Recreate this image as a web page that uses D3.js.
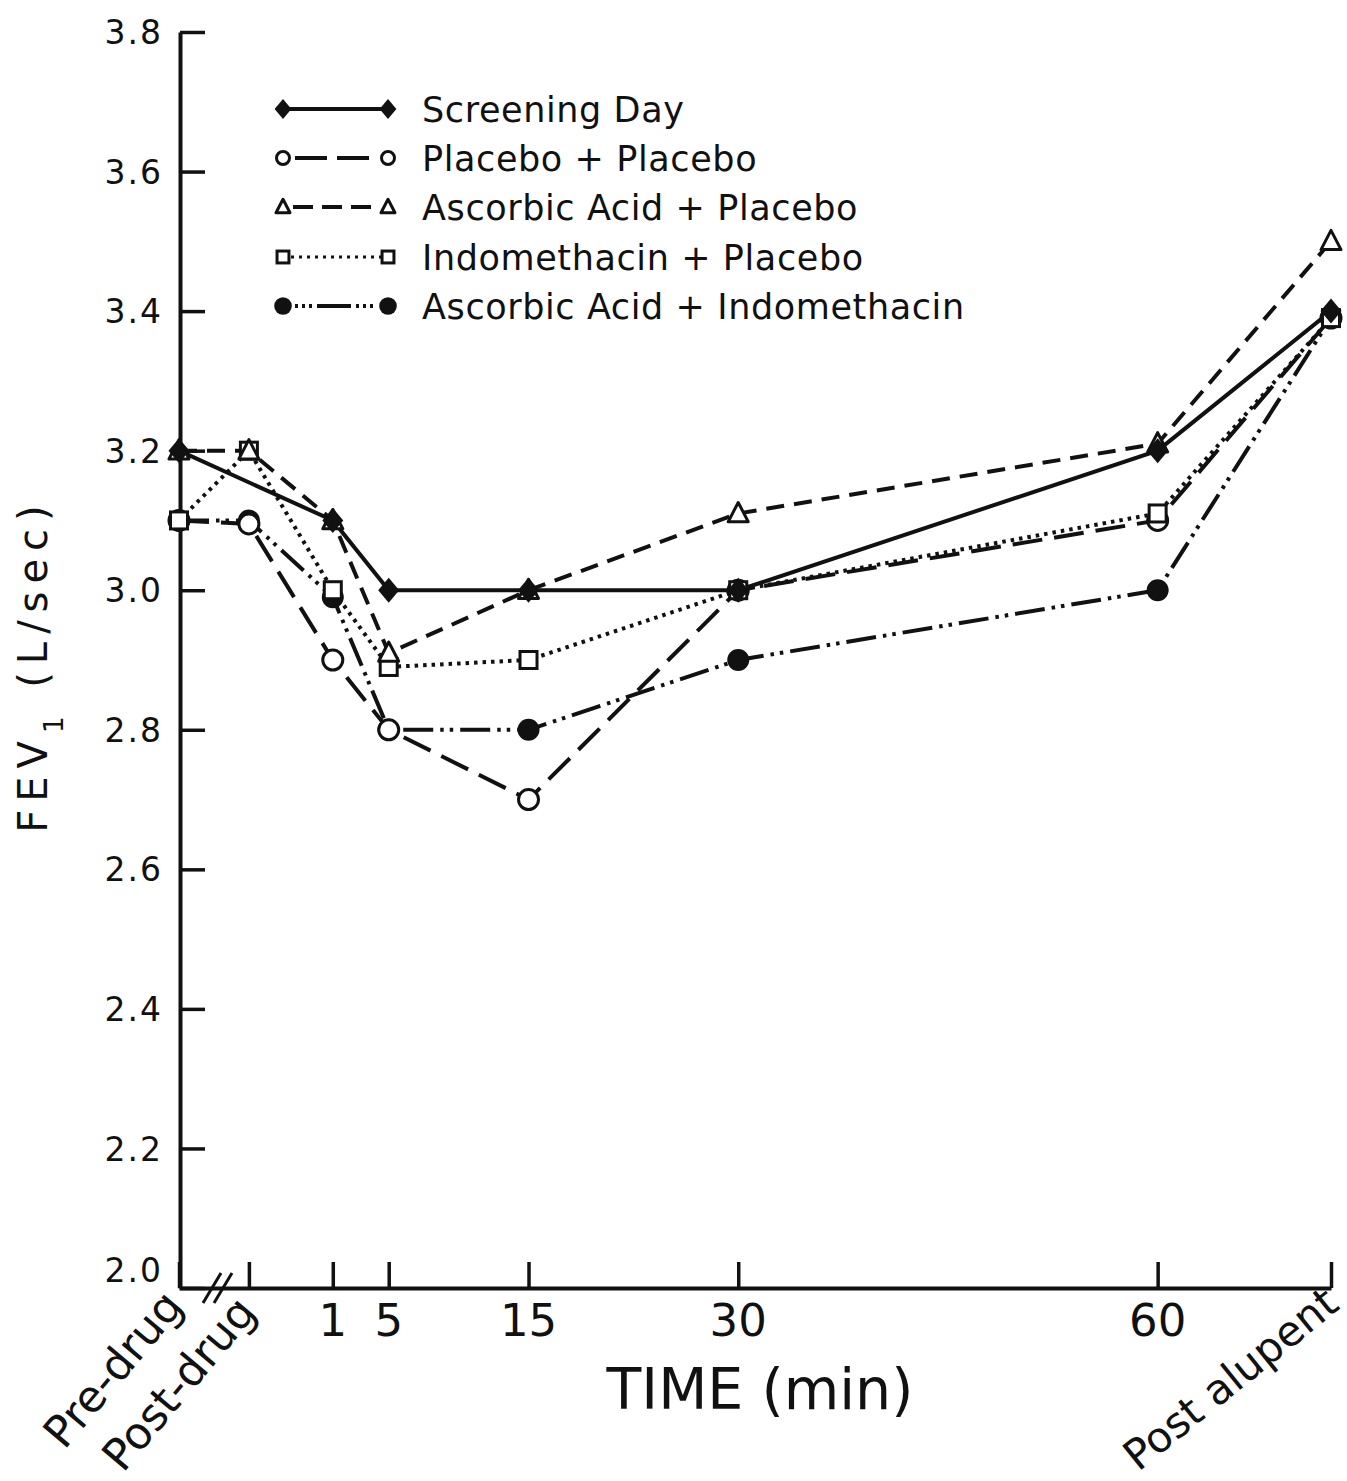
<!DOCTYPE html>
<html>
<head>
<meta charset="utf-8">
<script src="https://cdn.jsdelivr.net/npm/d3@7"></script>
<style>
  html, body { margin: 0; padding: 0; background: #fff; }
  svg { display: block; }
  text { font-family: "DejaVu Sans", sans-serif; fill: #111; }
</style>
</head>
<body>
<svg id="chart" width="1347" height="1481"></svg>
<script>
// ---- data ----
const timeLabels = ["Pre-drug", "Post-drug", "1", "5", "15", "30", "60", "Post alupent"];
const timeMinutes = [-10, -5, 1, 5, 15, 30, 60, 72.4];
const rotatedLabels = ["Pre-drug", "Post-drug", "Post alupent"];
const yTickValues = [2.0, 2.2, 2.4, 2.6, 2.8, 3.0, 3.2, 3.4, 3.6, 3.8];

const seriesNames = ["Screening Day", "Placebo + Placebo", "Ascorbic Acid + Placebo",
                     "Indomethacin + Placebo", "Ascorbic Acid + Indomethacin"];
const screeningDay    = [3.20, null, 3.10, 3.00, 3.00, 3.00, 3.20, 3.40];
const placeboPlacebo  = [3.10, 3.095, 2.90, 2.80, 2.70, 3.00, 3.10, 3.39];
const ascorbicPlacebo = [3.20, 3.20, 3.10, 2.91, 3.00, 3.11, 3.21, 3.50];
const indoPlacebo     = [3.10, 3.20, 3.00, 2.89, 2.90, 3.00, 3.11, 3.39];
const ascorbicIndo    = [3.10, 3.10, 2.99, 2.80, 2.80, 2.90, 3.00, 3.39];

// ---- styles ----
const seriesData = [screeningDay, placeboPlacebo, ascorbicPlacebo, indoPlacebo, ascorbicIndo];
const dashes = [null, "30,12", "18,10", "3.5,5", "30,7,3.5,6,3.5,7"];
const legendDashes = [null, "0,12,32,10,32,40", "0,10,20,9,20,9,20,40", "3,5",
                      "0,12,3,4,3,4,3,5,34,5,3,4,3,4,3,20"];
const markerKinds = ["diamond", "openCircle", "triangle", "square", "filledCircle"];

const svg = d3.select("#chart");
const x = d3.scaleLinear().domain([-10, 72.4]).range([179, 1331]);
const y = d3.scaleLinear().domain([2.0, 3.8]).range([1288, 32]);

// ---- axes ----
const yAxis = d3.axisLeft(y).tickValues(yTickValues).tickSize(-25).tickSizeOuter(0)
  .tickPadding(17).tickFormat(d3.format(".1f"));
const gy = svg.append("g").attr("transform", "translate(180,0)").call(yAxis);
gy.selectAll("path.domain").attr("stroke", "#111").attr("stroke-width", 4);
gy.selectAll(".tick line").attr("stroke", "#111").attr("stroke-width", 3.5);
gy.selectAll(".tick text")
  .style("font-size", "33px").style("letter-spacing", "2px")
  .attr("dy", d => d === 2.0 ? "-0.2em" : "0.35em");

const xAxis = d3.axisBottom(x).tickValues(timeMinutes).tickSize(-26).tickSizeOuter(0).tickFormat("");
const gx = svg.append("g").attr("transform", "translate(0,1288)").call(xAxis);
gx.selectAll("path.domain").attr("stroke", "#111").attr("stroke-width", 4);
gx.selectAll(".tick line").attr("stroke", "#111").attr("stroke-width", 3.5);

// axis break marks
[0, 11].forEach(off => {
  svg.append("line")
    .attr("x1", 203 + off).attr("y1", 1303).attr("x2", 221 + off).attr("y2", 1273)
    .attr("stroke", "#111").attr("stroke-width", 3);
});

// x tick labels
const labelOffsets = {
  "Pre-drug": [6, 19, -50, 44],
  "Post-drug": [9, 25, -50, 44],
  "Post alupent": [10, 20, -39, 42]
};
timeLabels.forEach((lab, i) => {
  const px = x(timeMinutes[i]);
  if (rotatedLabels.includes(lab)) {
    const o = labelOffsets[lab];
    svg.append("text")
      .attr("transform", `translate(${px + o[0]},${1288 + o[1]}) rotate(${o[2]})`)
      .attr("text-anchor", "end")
      .style("font-size", o[3] + "px")
      .text(lab);
  } else {
    svg.append("text")
      .attr("x", px).attr("y", 1336)
      .attr("text-anchor", "middle")
      .style("font-size", "45px")
      .text(lab);
  }
});

// axis titles
svg.append("text")
  .attr("x", 760).attr("y", 1409)
  .attr("text-anchor", "middle")
  .style("font-size", "57px")
  .text("TIME (min)");

const yt = svg.append("text")
  .attr("transform", "translate(47,665) rotate(-90)")
  .attr("text-anchor", "middle")
  .style("font-size", "40px")
  .style("letter-spacing", "8px");
yt.append("tspan").text("FEV");
yt.append("tspan").attr("dy", 16).style("font-size", "26px").text("1");
yt.append("tspan").attr("dy", -16).text(" (L/sec)");

// ---- marker drawing ----
function drawMarker(g, kind, cx, cy, s) {
  const k = s || 1;
  if (kind === "diamond") {
    const w = 10.5 * k, h = 12.5 * k;
    g.append("path").attr("d", `M${cx},${cy - h}L${cx + w},${cy}L${cx},${cy + h}L${cx - w},${cy}Z`)
      .attr("fill", "#111");
  } else if (kind === "openCircle") {
    g.append("circle").attr("cx", cx).attr("cy", cy).attr("r", 10 * k)
      .attr("fill", "#fff").attr("stroke", "#111").attr("stroke-width", 3);
  } else if (kind === "filledCircle") {
    g.append("circle").attr("cx", cx).attr("cy", cy).attr("r", 11 * k).attr("fill", "#111");
  } else if (kind === "square") {
    const a = 8.5 * k;
    g.append("rect").attr("x", cx - a).attr("y", cy - a).attr("width", 2 * a).attr("height", 2 * a)
      .attr("fill", "#fff").attr("stroke", "#111").attr("stroke-width", 3);
  } else if (kind === "triangle") {
    const h = 11 * k, w = 10 * k;
    g.append("path").attr("d", `M${cx},${cy - h}L${cx + w},${cy + h * 0.75}L${cx - w},${cy + h * 0.75}Z`)
      .attr("fill", "#fff").attr("stroke", "#111").attr("stroke-width", 3).attr("stroke-linejoin", "round");
  }
}

// ---- lines ----
const line = d3.line()
  .x(d => x(d.t)).y(d => y(d.v));

const linesG = svg.append("g");
seriesData.forEach((vals, si) => {
  const pts = vals.map((v, i) => ({ t: timeMinutes[i], v: v })).filter(d => d.v !== null);
  linesG.append("path")
    .datum(pts)
    .attr("d", line)
    .attr("fill", "none")
    .attr("stroke", "#111")
    .attr("stroke-width", 4)
    .attr("stroke-dasharray", dashes[si]);
});

// ---- markers (drawn in an order so overlaps resemble the original) ----
const markerOrder = [4, 1, 3, 2, 0];
const markersG = svg.append("g");
markerOrder.forEach(si => {
  seriesData[si].forEach((v, i) => {
    if (v === null) return;
    drawMarker(markersG, markerKinds[si], x(timeMinutes[i]), y(v), 1);
  });
});

// ---- legend ----
const legendRows = [109, 158, 207, 257, 306];
const legG = svg.append("g");
seriesNames.forEach((name, si) => {
  const ry = legendRows[si];
  legG.append("line")
    .attr("x1", 283).attr("x2", 388).attr("y1", ry).attr("y2", ry)
    .attr("stroke", "#111").attr("stroke-width", si === 3 ? 3 : 4)
    .attr("stroke-dasharray", legendDashes[si]);
  const sc = [0.8, 0.65, 0.7, 0.7, 0.8][si];
  drawMarker(legG, markerKinds[si], 283, ry, sc);
  drawMarker(legG, markerKinds[si], 388, ry, sc);
  legG.append("text")
    .attr("x", 422).attr("y", ry + 13)
    .style("font-size", "35px")
    .style("letter-spacing", "0.6px")
    .text(name);
});
</script>
</body>
</html>
